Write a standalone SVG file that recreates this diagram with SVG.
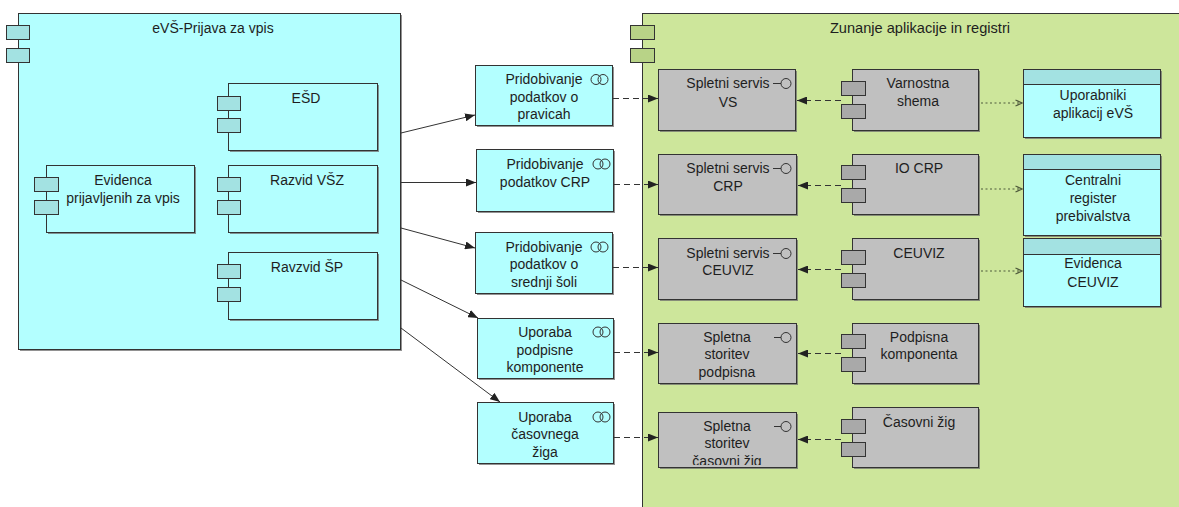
<svg xmlns="http://www.w3.org/2000/svg" width="1179" height="507" viewBox="0 0 1179 507">
<style>
text{font-family:"Liberation Sans",Arial,sans-serif;font-size:14px;fill:#1e1e1e;text-anchor:middle}
.sh{fill:#6e6e6e;opacity:0.75}
.cy{fill:#b3ffff;stroke:#333;stroke-width:1}
.cyt{fill:#a3e2e2;stroke:#333;stroke-width:1}
.gr{fill:#c0c0c0;stroke:#333;stroke-width:1}
.grt{fill:#a9a9a9;stroke:#333;stroke-width:1}
.gn{fill:#cde69b;stroke:#333;stroke-width:1}
.gnt{fill:#b8d387;stroke:#333;stroke-width:1}
.ln{fill:none;stroke:#333;stroke-width:1}
.solid{fill:none;stroke:#333;stroke-width:1}
.dash{fill:none;stroke:#333;stroke-width:1;stroke-dasharray:6,4}
.dot{fill:none;stroke:#4f5a3c;stroke-width:1.2;stroke-dasharray:2,2.5}
.svc circle{fill:none;stroke:#333;stroke-width:1}
</style>
<defs>
<marker id="fill" markerUnits="userSpaceOnUse" viewBox="0 0 10 8" markerWidth="10" markerHeight="8" refX="10" refY="4" orient="auto">
<path d="M0,0 L10,4 L0,8 z" fill="#222"/>
</marker>
<marker id="open" markerUnits="userSpaceOnUse" viewBox="0 0 8 8" markerWidth="8" markerHeight="8" refX="7.5" refY="4" orient="auto">
<path d="M1,1 L7.5,4 L1,7" fill="none" stroke="#4f5a3c" stroke-width="1.2"/>
</marker>
<clipPath id="clipS5"><rect x="659" y="413" width="136" height="52"/></clipPath>
</defs>

<!-- Left container -->
<g id="evs-prijava">
<rect class="sh" x="20" y="15" width="382" height="336"/>
<rect class="cy" x="18.5" y="13.5" width="382" height="336"/>
<rect class="cyt" x="6.5" y="25.5" width="23" height="14"/>
<rect class="cyt" x="6.5" y="48.5" width="23" height="14"/>
<text x="213" y="33">eVŠ-Prijava za vpis</text>
</g>

<g id="esd">
<rect class="sh" x="230" y="85" width="149" height="67"/>
<rect class="cy" x="228.5" y="83.5" width="149" height="67"/>
<rect class="cyt" x="217.5" y="96.5" width="23" height="14"/>
<rect class="cyt" x="217.5" y="118.5" width="23" height="14"/>
<text x="306" y="103">EŠD</text>
</g>

<g id="evidenca-prijavljenih">
<rect class="sh" x="48" y="167" width="148" height="67"/>
<rect class="cy" x="46.5" y="165.5" width="148" height="67"/>
<rect class="cyt" x="34.5" y="177.5" width="24" height="14"/>
<rect class="cyt" x="34.5" y="200.5" width="24" height="14"/>
<text x="123" y="185">Evidenca</text>
<text x="123" y="203">prijavljenih za vpis</text>
</g>

<g id="razvid-vsz">
<rect class="sh" x="230" y="167" width="149" height="67"/>
<rect class="cy" x="228.5" y="165.5" width="149" height="67"/>
<rect class="cyt" x="217.5" y="177.5" width="23" height="14"/>
<rect class="cyt" x="217.5" y="200.5" width="23" height="14"/>
<text x="307" y="185">Razvid VŠZ</text>
</g>

<g id="ravzvid-sp">
<rect class="sh" x="230" y="254" width="149" height="67"/>
<rect class="cy" x="228.5" y="252.5" width="149" height="67"/>
<rect class="cyt" x="217.5" y="264.5" width="23" height="14"/>
<rect class="cyt" x="217.5" y="287.5" width="23" height="14"/>
<text x="307" y="272">Ravzvid ŠP</text>
</g>

<!-- Green container -->
<g id="zunanje-aplikacije">
<rect class="sh" x="644" y="15" width="560" height="520"/>
<rect class="gn" x="642.5" y="13.5" width="560" height="520"/>
<rect class="gnt" x="630.5" y="25.5" width="24" height="14"/>
<rect class="gnt" x="630.5" y="48.5" width="24" height="14"/>
<text x="920" y="33" style="font-size:14.6px">Zunanje aplikacije in registri</text>
</g>

<!-- Middle service boxes -->
<g id="m1" class="svc">
<rect class="sh" x="477" y="67" width="137" height="60"/>
<rect class="cy" x="475.5" y="65.5" width="137" height="60"/>
<circle cx="596" cy="79.5" r="5"/><circle cx="603" cy="79.5" r="5"/>
<text x="544" y="84">Pridobivanje</text>
<text x="544" y="102">podatkov o</text>
<text x="544" y="119">pravicah</text>
</g>
<g id="m2" class="svc">
<rect class="sh" x="478" y="151" width="137" height="62"/>
<rect class="cy" x="476.5" y="149.5" width="137" height="62"/>
<circle cx="598" cy="164" r="5"/><circle cx="605" cy="164" r="5"/>
<text x="545" y="169">Pridobivanje</text>
<text x="545" y="187">podatkov CRP</text>
</g>
<g id="m3" class="svc">
<rect class="sh" x="477" y="234" width="137" height="61"/>
<rect class="cy" x="475.5" y="232.5" width="137" height="61"/>
<circle cx="596" cy="247" r="5"/><circle cx="603" cy="247" r="5"/>
<text x="544" y="252">Pridobivanje</text>
<text x="544" y="269">podatkov o</text>
<text x="544" y="287">srednji šoli</text>
</g>
<g id="m4" class="svc">
<rect class="sh" x="479" y="320" width="136" height="60"/>
<rect class="cy" x="477.5" y="318.5" width="136" height="60"/>
<circle cx="598" cy="332" r="5"/><circle cx="605" cy="332" r="5"/>
<text x="545" y="337">Uporaba</text>
<text x="545" y="355">podpisne</text>
<text x="545" y="372">komponente</text>
</g>
<g id="m5" class="svc">
<rect class="sh" x="479" y="404" width="136" height="61"/>
<rect class="cy" x="477.5" y="402.5" width="136" height="61"/>
<circle cx="598" cy="417" r="5"/><circle cx="605" cy="417" r="5"/>
<text x="545" y="422">Uporaba</text>
<text x="545" y="439">časovnega</text>
<text x="545" y="457">žiga</text>
</g>

<!-- Gray interfaces -->
<g id="s1" class="svc">
<rect class="sh" x="660" y="71" width="137" height="61"/>
<rect class="gr" x="658.5" y="69.5" width="137" height="61"/>
<path class="ln" d="M773,83.5 H781"/><circle cx="786" cy="83.5" r="5"/>
<text x="728" y="88">Spletni servis</text>
<text x="728" y="107">VS</text>
</g>
<g id="s2" class="svc">
<rect class="sh" x="660" y="156" width="138" height="60"/>
<rect class="gr" x="658.5" y="154.5" width="138" height="60"/>
<path class="ln" d="M773,168.5 H781"/><circle cx="786" cy="168.5" r="5"/>
<text x="728" y="173">Spletni servis</text>
<text x="728" y="191">CRP</text>
</g>
<g id="s3" class="svc">
<rect class="sh" x="660" y="240" width="138" height="61"/>
<rect class="gr" x="658.5" y="238.5" width="138" height="61"/>
<path class="ln" d="M773,253.5 H781"/><circle cx="786" cy="253.5" r="5"/>
<text x="728" y="258">Spletni servis</text>
<text x="728" y="275">CEUVIZ</text>
</g>
<g id="s4" class="svc">
<rect class="sh" x="660" y="325" width="138" height="60"/>
<rect class="gr" x="658.5" y="323.5" width="138" height="60"/>
<path class="ln" d="M774,337.5 H781"/><circle cx="786" cy="337.5" r="5"/>
<text x="727" y="342">Spletna</text>
<text x="727" y="359">storitev</text>
<text x="727" y="377">podpisna</text>
</g>
<g id="s5" class="svc">
<rect class="sh" x="660" y="414" width="138" height="55"/>
<rect class="gr" x="658.5" y="412.5" width="138" height="55"/>
<path class="ln" d="M774,426.5 H781"/><circle cx="786" cy="426.5" r="5"/>
<g clip-path="url(#clipS5)">
<text x="727" y="431">Spletna</text>
<text x="727" y="448">storitev</text>
<text x="727" y="466">časovni žig</text>
</g>
</g>

<!-- Gray components -->
<g id="c1">
<rect class="sh" x="854" y="71" width="126" height="61"/>
<rect class="gr" x="852.5" y="69.5" width="126" height="61"/>
<rect class="grt" x="841.5" y="81.5" width="24" height="14"/>
<rect class="grt" x="841.5" y="104.5" width="24" height="14"/>
<text x="918" y="88">Varnostna</text>
<text x="918" y="106">shema</text>
</g>
<g id="c2">
<rect class="sh" x="854" y="156" width="126" height="60"/>
<rect class="gr" x="852.5" y="154.5" width="126" height="60"/>
<rect class="grt" x="841.5" y="165.5" width="24" height="14"/>
<rect class="grt" x="841.5" y="188.5" width="24" height="14"/>
<text x="919" y="173">IO CRP</text>
</g>
<g id="c3">
<rect class="sh" x="854" y="240" width="126" height="61"/>
<rect class="gr" x="852.5" y="238.5" width="126" height="61"/>
<rect class="grt" x="841.5" y="250.5" width="24" height="14"/>
<rect class="grt" x="841.5" y="273.5" width="24" height="14"/>
<text x="919" y="258">CEUVIZ</text>
</g>
<g id="c4">
<rect class="sh" x="854" y="325" width="126" height="60"/>
<rect class="gr" x="852.5" y="323.5" width="126" height="60"/>
<rect class="grt" x="841.5" y="334.5" width="24" height="14"/>
<rect class="grt" x="841.5" y="357.5" width="24" height="14"/>
<text x="919" y="342">Podpisna</text>
<text x="919" y="359">komponenta</text>
</g>
<g id="c5">
<rect class="sh" x="854" y="409" width="126" height="60"/>
<rect class="gr" x="852.5" y="407.5" width="126" height="60"/>
<rect class="grt" x="841.5" y="419.5" width="24" height="14"/>
<rect class="grt" x="841.5" y="442.5" width="24" height="14"/>
<text x="919" y="427">Časovni žig</text>
</g>

<!-- Right data boxes -->
<g id="r1">
<rect class="sh" x="1025" y="71" width="137" height="68"/>
<rect class="cy" x="1023.5" y="69.5" width="137" height="68"/>
<rect class="cyt" x="1023.5" y="69.5" width="137" height="15"/>
<text x="1093" y="100">Uporabniki</text>
<text x="1093" y="118">aplikacij eVŠ</text>
</g>
<g id="r2">
<rect class="sh" x="1025" y="156" width="137" height="81"/>
<rect class="cy" x="1023.5" y="154.5" width="137" height="81"/>
<rect class="cyt" x="1023.5" y="154.5" width="137" height="15"/>
<text x="1093" y="185">Centralni</text>
<text x="1093" y="203">register</text>
<text x="1093" y="221">prebivalstva</text>
</g>
<g id="r3">
<rect class="sh" x="1025" y="240" width="137" height="68"/>
<rect class="cy" x="1023.5" y="238.5" width="137" height="68"/>
<rect class="cyt" x="1023.5" y="238.5" width="137" height="16"/>
<text x="1093" y="268">Evidenca</text>
<text x="1093" y="287">CEUVIZ</text>
</g>

<!-- Connectors -->
<g id="connectors">
<path class="solid" d="M401,133 L475,115" marker-end="url(#fill)"/>
<path class="solid" d="M401,182.5 L476,182.5" marker-end="url(#fill)"/>
<path class="solid" d="M401,228 L475,248" marker-end="url(#fill)"/>
<path class="solid" d="M401,280 L478,318" marker-end="url(#fill)"/>
<path class="solid" d="M401,328 L500,402" marker-end="url(#fill)"/>

<path class="dash" d="M613,98.5 L658,98.5" marker-end="url(#fill)"/>
<path class="dash" d="M614,184.5 L658,184.5" marker-end="url(#fill)"/>
<path class="dash" d="M613,267.5 L658,267.5" marker-end="url(#fill)"/>
<path class="dash" d="M614,352.5 L658,352.5" marker-end="url(#fill)"/>
<path class="dash" d="M614,437.5 L658,437.5" marker-end="url(#fill)"/>

<path class="dash" d="M841,100.5 L797,100.5" marker-end="url(#fill)"/>
<path class="dash" d="M841,185.5 L798,185.5" marker-end="url(#fill)"/>
<path class="dash" d="M841,269.5 L798,269.5" marker-end="url(#fill)"/>
<path class="dash" d="M841,353.5 L798,353.5" marker-end="url(#fill)"/>
<path class="dash" d="M841,439.5 L798,439.5" marker-end="url(#fill)"/>

<path class="dot" d="M981,103 L1022,103" marker-end="url(#open)"/>
<path class="dot" d="M981,189 L1022,189" marker-end="url(#open)"/>
<path class="dot" d="M981,271 L1022,271" marker-end="url(#open)"/>
</g>
</svg>
